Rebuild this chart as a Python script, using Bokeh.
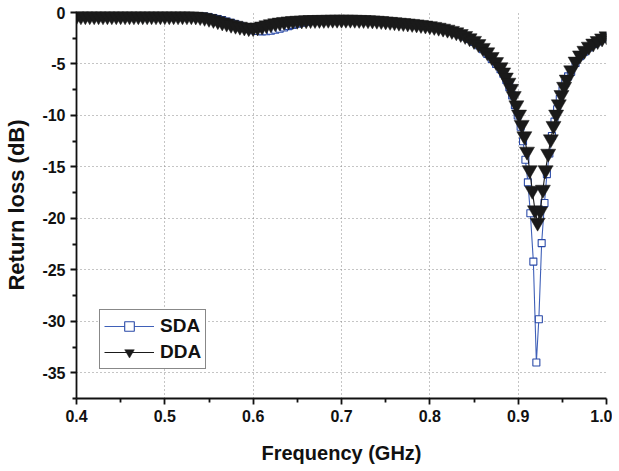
from bokeh.plotting import figure
from bokeh.models import FixedTicker, Range1d, Legend, LegendItem
from bokeh.embed import file_html
from bokeh.resources import INLINE

# ---------------- data ----------------
freq_main = [0.400, 0.405, 0.410, 0.415, 0.420, 0.425, 0.430, 0.435, 0.440, 0.445,
             0.450, 0.455, 0.460, 0.465, 0.470, 0.475, 0.480, 0.485, 0.490, 0.495,
             0.500, 0.505, 0.510, 0.515, 0.520, 0.525, 0.530, 0.535, 0.540, 0.545,
             0.550, 0.555, 0.560, 0.565, 0.570, 0.575, 0.580, 0.585, 0.590, 0.595,
             0.600, 0.605, 0.610, 0.615, 0.620, 0.625, 0.630, 0.635, 0.640, 0.645,
             0.650, 0.655, 0.660, 0.665, 0.670, 0.675, 0.680, 0.685, 0.690, 0.695,
             0.700, 0.705, 0.710, 0.715, 0.720, 0.725, 0.730, 0.735, 0.740, 0.745,
             0.750, 0.755, 0.760, 0.765, 0.770, 0.775, 0.780, 0.785, 0.790, 0.795,
             0.800, 0.805, 0.810, 0.815, 0.820, 0.825, 0.830, 0.835, 0.840, 0.845,
             0.850, 0.855, 0.860, 0.865, 0.870, 0.875, 0.880]

dda_main = [-0.35, -0.35, -0.35, -0.35, -0.35, -0.35, -0.35, -0.35, -0.35, -0.35,
            -0.35, -0.35, -0.35, -0.35, -0.35, -0.35, -0.35, -0.35, -0.35, -0.35,
            -0.35, -0.35, -0.35, -0.35, -0.35, -0.35, -0.35, -0.37, -0.42, -0.50,
            -0.60, -0.70, -0.82, -0.95, -1.06, -1.17, -1.27, -1.36, -1.44, -1.50,
            -1.50, -1.44, -1.34, -1.23, -1.12, -1.03, -0.96, -0.90, -0.85, -0.81,
            -0.78, -0.76, -0.74, -0.72, -0.71, -0.70, -0.70, -0.69, -0.68, -0.68,
            -0.68, -0.68, -0.68, -0.69, -0.70, -0.71, -0.73, -0.75, -0.78, -0.81,
            -0.85, -0.89, -0.93, -0.97, -1.01, -1.05, -1.09, -1.14, -1.19, -1.25,
            -1.31, -1.38, -1.46, -1.55, -1.65, -1.77, -1.91, -2.07, -2.26, -2.48,
            -2.74, -3.05, -3.42, -3.85, -4.30, -4.80, -5.30]

sda_main = [-0.35, -0.35, -0.35, -0.35, -0.35, -0.35, -0.35, -0.35, -0.35, -0.35,
            -0.35, -0.35, -0.35, -0.35, -0.35, -0.35, -0.35, -0.35, -0.35, -0.35,
            -0.35, -0.35, -0.35, -0.35, -0.35, -0.35, -0.35, -0.35, -0.36, -0.40,
            -0.46, -0.54, -0.63, -0.74, -0.87, -1.00, -1.15, -1.30, -1.45, -1.60,
            -1.72, -1.80, -1.83, -1.82, -1.77, -1.68, -1.57, -1.45, -1.32, -1.20,
            -1.08, -0.98, -0.90, -0.83, -0.78, -0.75, -0.73, -0.71, -0.70, -0.70,
            -0.70, -0.70, -0.70, -0.71, -0.72, -0.73, -0.75, -0.77, -0.80, -0.83,
            -0.87, -0.91, -0.95, -0.99, -1.03, -1.07, -1.11, -1.16, -1.21, -1.27,
            -1.33, -1.40, -1.48, -1.57, -1.67, -1.80, -1.95, -2.12, -2.33, -2.57,
            -2.85, -3.18, -3.57, -4.02, -4.50, -5.00, -5.50]

freq_sda_dip = [0.8832, 0.8866, 0.8900, 0.8932, 0.8963, 0.8995, 0.9028, 0.9055, 0.9082,
                0.9110, 0.9138, 0.9172, 0.9206, 0.9234, 0.9266, 0.9298, 0.9325, 0.9353,
                0.9382, 0.9411, 0.9441, 0.9471, 0.9502, 0.9533, 0.9565]
sda_dip = [-5.95, -6.55, -7.25, -8.05, -9.0, -10.0, -11.1, -12.5, -14.3,
           -16.5, -19.5, -24.2, -34.0, -29.8, -22.4, -18.5, -15.7, -13.7,
           -12.0, -10.6, -9.4, -8.4, -7.55, -6.85, -6.2]

freq_dda_dip = [0.883, 0.886, 0.889, 0.892, 0.895, 0.898, 0.901, 0.904, 0.907,
                0.910, 0.913, 0.916, 0.919, 0.922, 0.925, 0.928, 0.931, 0.934,
                0.937, 0.940, 0.943, 0.946, 0.949, 0.952, 0.955]
dda_dip = [-5.8, -6.3, -6.8, -7.4, -8.1, -9.0, -9.9, -10.9, -12.0,
           -13.5, -15.3, -17.3, -19.2, -20.4, -19.3, -17.2, -15.3, -13.7,
           -12.3, -11.0, -9.9, -8.9, -8.0, -7.2, -6.5]

freq_tail = [0.960, 0.965, 0.970, 0.975, 0.980, 0.985, 0.990, 0.995, 1.000]
dda_tail = [-5.6, -4.75, -4.15, -3.7, -3.3, -3.0, -2.75, -2.5, -2.3]
sda_tail = [-5.75, -4.9, -4.25, -3.8, -3.4, -3.05, -2.8, -2.55, -2.35]

x_ticks = [0.4, 0.5, 0.6, 0.7, 0.8, 0.9, 1.0]
x_minor = [0.45, 0.55, 0.65, 0.75, 0.85, 0.95]
y_ticks = [0, -5, -10, -15, -20, -25, -30, -35]
y_minor = [-2.5, -7.5, -12.5, -17.5, -22.5, -27.5, -32.5, -37.5]

sda_x = freq_main + freq_sda_dip + freq_tail
sda_y = sda_main + sda_dip + sda_tail
dda_x = freq_main + freq_dda_dip + freq_tail
dda_y = dda_main + dda_dip + dda_tail

# ---------------- figure ----------------
FONT = "Liberation Sans"
INK = "#111111"
p = figure(width=612, height=466, output_backend="svg", toolbar_location=None,
           x_range=Range1d(0.4, 1.0), y_range=Range1d(-37.5, 0.1),
           min_border_left=76, min_border_right=6, min_border_top=11, min_border_bottom=64)
p.outline_line_color = None
p.background_fill_color = "white"
p.border_fill_color = "white"

for ax, ticks, minor in ((p.xaxis[0], x_ticks, x_minor), (p.yaxis[0], y_ticks, y_minor)):
    ax.ticker = FixedTicker(ticks=ticks, minor_ticks=minor)
    ax.axis_line_width = 1.8
    ax.axis_line_color = INK
    ax.major_tick_line_width = 1.8
    ax.major_tick_line_color = INK
    ax.minor_tick_line_width = 1.8
    ax.minor_tick_line_color = INK
    ax.major_tick_out = 6
    ax.major_tick_in = 0
    ax.minor_tick_out = 4
    ax.minor_tick_in = 0
    ax.major_label_text_font = FONT
    ax.major_label_text_font_style = "bold"
    ax.major_label_text_font_size = "16px"
    ax.major_label_text_color = INK
    ax.axis_label_text_font = FONT
    ax.axis_label_text_font_style = "bold"
    ax.axis_label_text_color = INK

p.xaxis.axis_label_text_font_size = "20px"
p.yaxis.axis_label_text_font_size = "22px"
p.xaxis.major_label_overrides = {t: f"{t:.1f}" for t in x_ticks}
p.yaxis.major_label_overrides = {t: f"{t:d}" for t in y_ticks}
p.xaxis.axis_label = "Frequency (GHz)"
p.yaxis.axis_label = "Return loss (dB)"
p.xaxis.major_label_standoff = 5
p.yaxis.major_label_standoff = 5
p.xaxis.axis_label_standoff = 17
p.yaxis.axis_label_standoff = 10

p.xgrid.ticker = FixedTicker(ticks=[0.5, 0.6, 0.7, 0.8, 0.9])
p.ygrid.ticker = FixedTicker(ticks=[-5, -10, -15, -20, -25, -30, -35])
for g in (p.xgrid[0], p.ygrid[0]):
    g.grid_line_color = "#8a8a8a"
    g.grid_line_width = 1
    g.grid_line_dash = "1 3"

blue = "#3f60b8"
sda_line = p.line(sda_x, sda_y, line_color=blue, line_width=1.1)
sda_pts = p.scatter(sda_x, sda_y, marker="square", size=7, fill_color="white",
                    line_color="#2a4aa8", line_width=1.1)
dda_line = p.line(dda_x, dda_y, line_color="#1a1a1a", line_width=1.1)
dda_pts = p.scatter(dda_x, dda_y, marker="inverted_triangle", size=15,
                    fill_color="#1a1a1a", line_color="#1a1a1a", line_width=0.5)

legend = Legend(items=[LegendItem(label="SDA", renderers=[sda_line, sda_pts]),
                       LegendItem(label="DDA", renderers=[dda_line, dda_pts])],
                location=(23, 29))
legend.label_text_font = FONT
legend.label_text_font_style = "bold"
legend.label_text_font_size = "19px"
legend.label_text_color = INK
legend.glyph_width = 50
legend.glyph_height = 24
legend.label_height = 24
legend.label_standoff = 6
legend.padding = 4
legend.spacing = 2
legend.margin = 0
legend.border_line_color = INK
legend.border_line_width = 1.2
legend.background_fill_alpha = 1
p.add_layout(legend, "center")

open("out.html", "w").write(file_html(p, INLINE))
